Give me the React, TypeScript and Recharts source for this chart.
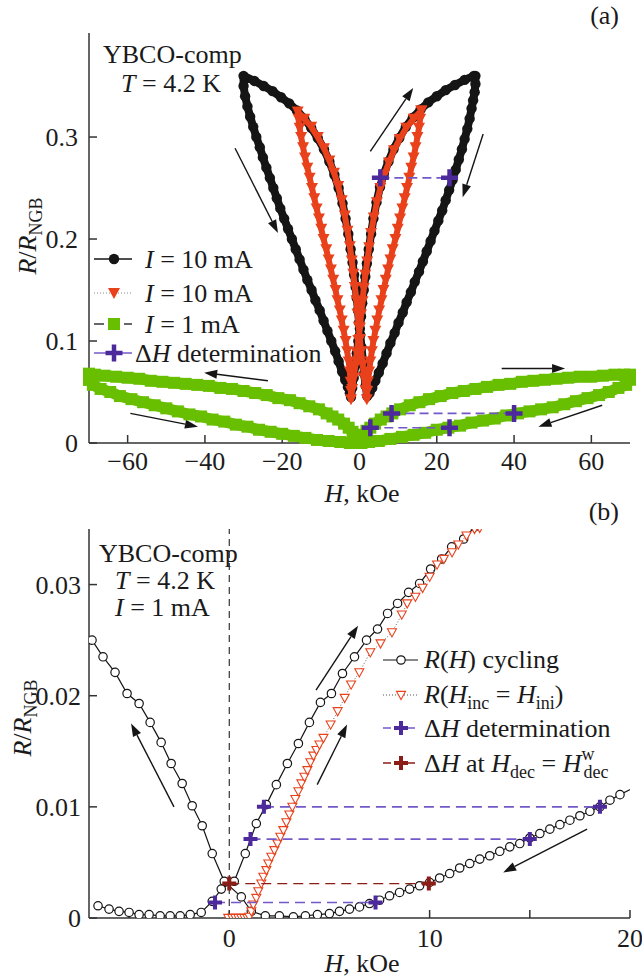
import React from 'react';
import { ScatterChart, Scatter, XAxis, YAxis, ReferenceLine } from 'recharts';

type Pt = [number, number];

// ---------- panel (a): R/R_NGB vs H, wide field loops ----------
const hTicksA = [-60, -40, -20, 0, 20, 40, 60];
const rTicksA = [0, 0.1, 0.2, 0.3];

// I = 10 mA, major loop (+-30 kOe), traced as one closed path
const black10OuterRight: Pt[] = [
  [30.0, 0.360], [30.0, 0.352], [29.8, 0.344], [29.4, 0.336], [29.0, 0.328], [28.5, 0.318],
  [27.9, 0.308], [27.2, 0.298], [26.5, 0.288], [25.7, 0.278], [24.9, 0.268], [24.1, 0.258],
  [23.2, 0.248], [22.3, 0.238], [21.4, 0.228], [20.4, 0.218], [19.4, 0.208], [18.4, 0.198],
  [17.4, 0.188], [16.4, 0.178], [15.4, 0.168], [14.3, 0.158], [13.3, 0.148], [12.2, 0.138],
  [11.2, 0.128], [10.1, 0.118], [9.1, 0.108], [8.0, 0.098], [7.0, 0.088], [6.0, 0.078],
  [5.0, 0.069], [4.1, 0.061], [3.3, 0.054], [2.6, 0.049], [2.0, 0.046],
];
const black10InnerLeft: Pt[] = [
  [1.6, 0.056], [1.2, 0.068], [0.9, 0.080], [0.5, 0.094], [0.2, 0.106], [-0.1, 0.118],
  [-0.4, 0.130], [-0.7, 0.142], [-1.0, 0.153], [-1.4, 0.165], [-1.8, 0.177], [-2.3, 0.190],
  [-2.9, 0.205], [-3.6, 0.220], [-4.4, 0.235], [-5.4, 0.250], [-6.5, 0.263], [-7.8, 0.276],
  [-9.2, 0.288], [-10.8, 0.299], [-12.5, 0.309], [-14.3, 0.318], [-16.2, 0.326], [-18.2, 0.333],
  [-20.3, 0.339], [-22.5, 0.345], [-24.8, 0.350], [-27.2, 0.355], [-30.0, 0.360],
];
const black10OuterLeft: Pt[] = [
  [-30.0, 0.350], [-29.6, 0.340], [-29.0, 0.330], [-28.3, 0.320], [-27.5, 0.310], [-26.7, 0.300],
  [-25.8, 0.290], [-25.0, 0.280], [-24.1, 0.270], [-23.2, 0.260], [-22.3, 0.250], [-21.4, 0.240],
  [-20.5, 0.230], [-19.5, 0.220], [-18.5, 0.210], [-17.5, 0.200], [-16.5, 0.190], [-15.5, 0.180],
  [-14.5, 0.170], [-13.5, 0.160], [-12.4, 0.150], [-11.4, 0.140], [-10.3, 0.130], [-9.3, 0.120],
  [-8.3, 0.110], [-7.3, 0.100], [-6.3, 0.090], [-5.4, 0.080], [-4.5, 0.070], [-3.7, 0.062],
  [-3.0, 0.055], [-2.5, 0.049], [-2.2, 0.045],
];
const black10InnerRight: Pt[] = [
  [-1.9, 0.054], [-1.5, 0.064], [-1.1, 0.076], [-0.7, 0.088], [-0.3, 0.100], [0.1, 0.112],
  [0.4, 0.124], [0.7, 0.137], [1.1, 0.150], [1.5, 0.163], [1.9, 0.176], [2.4, 0.190],
  [3.0, 0.205], [3.6, 0.220], [4.4, 0.236], [5.3, 0.251], [6.3, 0.264], [7.5, 0.276],
  [8.8, 0.288], [10.3, 0.299], [12.0, 0.310], [13.8, 0.319], [15.8, 0.327], [17.8, 0.334],
  [20.0, 0.340], [22.3, 0.346], [24.7, 0.351], [27.2, 0.356], [29.6, 0.360],
];

// I = 10 mA, minor loop (+-16 kOe)
const red10OuterRight: Pt[] = [
  [16.0, 0.326], [15.7, 0.318], [15.4, 0.309], [15.0, 0.300], [14.5, 0.290], [14.0, 0.280],
  [13.4, 0.270], [12.9, 0.260], [12.3, 0.250], [11.7, 0.240], [11.1, 0.230], [10.5, 0.220],
  [9.9, 0.210], [9.3, 0.200], [8.6, 0.190], [8.0, 0.180], [7.4, 0.170], [6.8, 0.160],
  [6.2, 0.150], [5.7, 0.140], [5.1, 0.130], [4.6, 0.120], [4.1, 0.110], [3.6, 0.100],
  [3.2, 0.090], [2.8, 0.080], [2.5, 0.070], [2.2, 0.060], [2.0, 0.051], [1.9, 0.043],
];
const red10InnerLeft: Pt[] = [
  [1.6, 0.052], [1.2, 0.064], [0.8, 0.077], [0.4, 0.090], [0.1, 0.102], [-0.2, 0.114],
  [-0.5, 0.127], [-0.8, 0.140], [-1.2, 0.153], [-1.6, 0.166], [-2.0, 0.179], [-2.5, 0.193],
  [-3.1, 0.208], [-3.8, 0.223], [-4.6, 0.238], [-5.5, 0.252], [-6.6, 0.265], [-7.8, 0.277],
  [-9.2, 0.289], [-10.8, 0.300], [-12.5, 0.310], [-14.3, 0.318], [-16.0, 0.325],
];
const red10OuterLeft: Pt[] = [
  [-15.8, 0.318], [-15.5, 0.309], [-15.1, 0.300], [-14.6, 0.290], [-14.1, 0.280], [-13.5, 0.270],
  [-12.9, 0.260], [-12.3, 0.250], [-11.7, 0.240], [-11.1, 0.230], [-10.5, 0.220], [-9.9, 0.210],
  [-9.3, 0.200], [-8.6, 0.190], [-8.0, 0.180], [-7.4, 0.170], [-6.8, 0.160], [-6.2, 0.150],
  [-5.7, 0.140], [-5.1, 0.130], [-4.6, 0.120], [-4.1, 0.110], [-3.6, 0.100], [-3.2, 0.090],
  [-2.8, 0.080], [-2.5, 0.070], [-2.3, 0.060], [-2.2, 0.051], [-2.2, 0.043],
];
const red10InnerRight: Pt[] = [
  [-1.9, 0.053], [-1.5, 0.064], [-1.1, 0.076], [-0.7, 0.089], [-0.3, 0.101], [0.1, 0.113],
  [0.4, 0.126], [0.8, 0.139], [1.1, 0.152], [1.5, 0.165], [2.0, 0.178], [2.5, 0.192],
  [3.0, 0.206], [3.7, 0.221], [4.5, 0.236], [5.4, 0.250], [6.4, 0.263], [7.6, 0.275],
  [8.9, 0.287], [10.4, 0.298], [12.1, 0.309], [14.0, 0.318], [16.0, 0.326],
];

// I = 1 mA, loop to +-70 kOe
const green1LowerLeft: Pt[] = [
  [-70, 0.062], [-69, 0.057], [-67, 0.053], [-64.5, 0.050], [-62, 0.046], [-59, 0.043],
  [-56, 0.040], [-53, 0.037], [-50, 0.034], [-47, 0.031], [-44, 0.028], [-41, 0.026],
  [-38, 0.023], [-35, 0.021], [-32, 0.018], [-29, 0.016], [-26, 0.013], [-23, 0.011],
  [-20, 0.009], [-17, 0.007], [-14, 0.005], [-11, 0.003], [-8, 0.002], [-5, 0.001],
  [-2.5, 0.000], [-0.5, 0.001],
];
const green1UpperRight: Pt[] = [
  [0.3, 0.004], [1.0, 0.008], [1.8, 0.012], [2.8, 0.015], [4.0, 0.019], [5.5, 0.023],
  [7.0, 0.026], [8.5, 0.029], [10.5, 0.033], [13, 0.037], [15.5, 0.040], [18, 0.043],
  [21, 0.046], [24, 0.049], [27, 0.051], [30, 0.053], [33, 0.055], [36, 0.057],
  [39, 0.058], [42, 0.060], [45, 0.061], [48, 0.062], [51, 0.063], [54, 0.064],
  [57, 0.065], [60, 0.065], [63, 0.066], [66, 0.067], [68.5, 0.067], [70, 0.067], [70, 0.062],
];
const green1LowerRight: Pt[] = [
  [69, 0.057], [67, 0.054], [64.5, 0.050], [62, 0.047], [59, 0.044], [56, 0.041],
  [53, 0.038], [50, 0.035], [47, 0.033], [44, 0.031], [41, 0.029], [38, 0.027],
  [35, 0.024], [32, 0.022], [29, 0.020], [26, 0.017], [23, 0.015], [20, 0.013],
  [17, 0.010], [14, 0.008], [11, 0.006], [8, 0.004], [5, 0.002], [2.5, 0.001], [0.5, 0.000],
];
const green1UpperLeft: Pt[] = [
  [-0.3, 0.004], [-1.0, 0.008], [-1.8, 0.011], [-2.8, 0.015], [-4.0, 0.019], [-5.5, 0.023],
  [-7.0, 0.026], [-8.5, 0.029], [-10.5, 0.033], [-13, 0.036], [-15.5, 0.039], [-18, 0.042],
  [-21, 0.044], [-24, 0.047], [-27, 0.049], [-30, 0.051], [-33, 0.053], [-36, 0.054],
  [-39, 0.056], [-42, 0.057], [-45, 0.058], [-48, 0.059], [-51, 0.060], [-54, 0.061],
  [-57, 0.063], [-60, 0.064], [-63, 0.065], [-66, 0.066], [-68.5, 0.067], [-70, 0.068],
  [-70, 0.062],
];

// Delta H determination pairs
const deltaA1: Pt[] = [[5.4, 0.260], [23.3, 0.260]];
const deltaA2: Pt[] = [[8.3, 0.029], [40.0, 0.029]];
const deltaA3: Pt[] = [[2.8, 0.015], [23.3, 0.015]];

const arrowsA: [Pt, Pt][] = [
  [[-32.2, 0.289], [-21.1, 0.206]],
  [[2.8, 0.286], [13.9, 0.348]],
  [[32.0, 0.303], [26.7, 0.241]],
  [[-23.7, 0.061], [-40.2, 0.069]],
  [[-59.3, 0.029], [-41.8, 0.016]],
  [[36.8, 0.073], [53.2, 0.073]],
  [[62.8, 0.037], [46.3, 0.016]],
];

// ---------- panel (b): low field zoom, I = 1 mA ----------
const hTicksB = [-5, 0, 5, 10, 15, 20];
const hLabelsB = [0, 10, 20];
const rTicksB = [0, 0.01, 0.02, 0.03];

const cyclingDec: Pt[] = [
  [20.4, 0.0119], [19.5, 0.0111], [19.0, 0.0106], [18.5, 0.0100], [18.0, 0.0096], [17.5, 0.0092],
  [17.0, 0.0088], [16.5, 0.0084], [16.0, 0.0080], [15.5, 0.0076], [15.0, 0.0072], [14.5, 0.0067],
  [14.0, 0.0064], [13.5, 0.0060], [13.0, 0.0056], [12.5, 0.0053], [12.0, 0.0049], [11.5, 0.0045],
  [11.0, 0.0040], [10.5, 0.0036], [10.0, 0.0032], [9.5, 0.0029], [9.0, 0.0026], [8.5, 0.0023],
  [8.0, 0.0020], [7.5, 0.0016], [7.0, 0.0013], [6.5, 0.0010], [6.0, 0.0008], [5.5, 0.0006],
  [5.0, 0.0004], [4.4, 0.0003], [3.8, 0.0002], [3.2, 0.0001], [2.5, 0.0002], [1.8, 0.0002],
  [1.1, 0.0006], [0.6, 0.0019], [-0.25, 0.0033], [-0.85, 0.0058], [-1.35, 0.0083], [-1.85, 0.0101],
  [-2.35, 0.0121], [-2.9, 0.0139], [-3.4, 0.0158], [-3.95, 0.0176], [-4.5, 0.0193], [-5.1, 0.0202],
  [-5.7, 0.0221], [-6.3, 0.0235], [-6.85, 0.0250],
];
const cyclingInc: Pt[] = [
  [-6.55, 0.0011], [-6.0, 0.0008], [-5.5, 0.0006], [-5.0, 0.0005], [-4.5, 0.0003], [-4.0, 0.0003],
  [-3.45, 0.0002], [-2.95, 0.0002], [-2.45, 0.0002], [-1.95, 0.0003], [-1.4, 0.0005], [-0.85, 0.0015],
  [-0.4, 0.0026], [0.25, 0.0033], [0.8, 0.0058], [1.35, 0.0085], [1.85, 0.0102], [2.35, 0.0120],
  [2.9, 0.0139], [3.45, 0.0157], [4.0, 0.0176], [4.55, 0.0194], [5.1, 0.0202], [5.65, 0.0220],
  [6.25, 0.0235], [6.85, 0.0250], [7.4, 0.0260], [7.9, 0.0274], [8.4, 0.0283], [8.95, 0.0293],
  [9.5, 0.0301], [10.05, 0.0314], [10.6, 0.0323], [11.1, 0.0334], [11.7, 0.0341], [12.25, 0.0352],
];
const initialCurve: Pt[] = [
  [-0.05, 0], [0.15, 0], [0.3, 0], [0.45, 0], [0.6, 0], [0.75, 0], [0.9, 0],
  [1.0, 0.0001], [1.1, 0.0006], [1.2, 0.0012], [1.35, 0.0018], [1.45, 0.0024], [1.6, 0.0031],
  [1.7, 0.0037], [1.85, 0.0043], [1.95, 0.0049], [2.1, 0.0055], [2.25, 0.0061], [2.4, 0.0067],
  [2.55, 0.0073], [2.7, 0.0079], [2.85, 0.0086], [3.0, 0.0093], [3.15, 0.0100], [3.3, 0.0107],
  [3.45, 0.0114], [3.6, 0.0121], [3.75, 0.0127], [3.9, 0.0133], [4.05, 0.0140], [4.2, 0.0146],
  [4.35, 0.0151], [4.5, 0.0156], [4.7, 0.0162], [5.06, 0.0174], [5.41, 0.0186], [5.76, 0.0198],
  [6.08, 0.0210], [6.49, 0.0221], [7.04, 0.0239], [7.55, 0.0247], [8.12, 0.0257], [8.61, 0.0273],
  [8.88, 0.0283], [9.29, 0.0289], [9.65, 0.0297], [10.0, 0.0307], [10.37, 0.0318], [10.71, 0.0323],
  [11.12, 0.0329], [11.43, 0.0336], [11.84, 0.0344], [12.24, 0.0350], [12.5, 0.0351],
];
const deltaB1: Pt[] = [[1.73, 0.0100], [18.5, 0.0100]];
const deltaB2: Pt[] = [[1.06, 0.0071], [15.0, 0.0071]];
const deltaB3: Pt[] = [[-0.71, 0.0014], [7.3, 0.0014]];
const deltaDec: Pt[] = [[0, 0.0031], [9.96, 0.0031]];

const arrowsB: [Pt, Pt][] = [
  [[-2.76, 0.0100], [-4.9, 0.0175]],
  [[4.33, 0.0205], [6.43, 0.0263]],
  [[4.39, 0.0120], [5.88, 0.0174]],
  [[17.86, 0.0080], [13.67, 0.0041]],
];

// ---------- styling ----------
const FONT = 'Liberation Serif';
const AXIS = '#333';
const BLACK = '#151515';
const RED = '#e8411b';
const GREEN = '#68bf00';
const PURPLE = '#4d2a9c';
const PURPLE_DASH = '#7358c8';
const DARKRED = '#8c1c16';

const rows = (pts: Pt[]) => pts.map(([h, r]) => ({ h, r }));
const fmt = (v: number) => (v < 0 ? '\u2212' + Math.abs(v) : String(v));
const tickStyle = { fill: '#1c1c1c', fontSize: 26, fontFamily: FONT, style: { fontFamily: FONT } };

const filledDot = (p: any) => <circle cx={p.cx} cy={p.cy} r={5.2} fill={BLACK} />;
const filledTri = (p: any) => (
  <polygon points={`${p.cx - 6},${p.cy - 5} ${p.cx + 6},${p.cy - 5} ${p.cx},${p.cy + 6}`} fill={RED} />
);
const greenSquare = (p: any) => <rect x={p.cx - 6} y={p.cy - 6} width={12} height={12} fill={GREEN} />;
const plusMark = (color: string, s: number, w: number) => (p: any) => (
  <path d={`M${p.cx - s},${p.cy}H${p.cx + s}M${p.cx},${p.cy - s}V${p.cy + s}`} stroke={color} strokeWidth={w} />
);
const openDot = (p: any) => <circle cx={p.cx} cy={p.cy} r={4.2} fill="#fff" stroke={BLACK} strokeWidth={1.2} />;
const openTri = (p: any) => (
  <polygon
    points={`${p.cx - 4.5},${p.cy - 3.6} ${p.cx + 4.5},${p.cy - 3.6} ${p.cx},${p.cy + 4.6}`}
    fill="#fff" stroke={RED} strokeWidth={1.1}
  />
);

function arrowShape(p: any) {
  const { x1, y1, x2, y2 } = p;
  const len = Math.hypot(x2 - x1, y2 - y1) || 1;
  const ux = (x2 - x1) / len;
  const uy = (y2 - y1) / len;
  const bx = x2 - ux * 13;
  const by = y2 - uy * 13;
  return (
    <g>
      <line x1={x1} y1={y1} x2={bx} y2={by} stroke={BLACK} strokeWidth={1.4} />
      <polygon points={`${x2},${y2} ${bx - uy * 4.5},${by + ux * 4.5} ${bx + uy * 4.5},${by - ux * 4.5}`} fill={BLACK} />
    </g>
  );
}

const axisLine = { stroke: AXIS, strokeWidth: 1.5 };

function PanelA() {
  return (
    <ScatterChart width={642} height={490} margin={{ top: 33, right: 12, bottom: 7, left: 29 }}>
      <XAxis
        dataKey="h" type="number" domain={[-70, 70]} ticks={hTicksA} interval={0}
        tickFormatter={fmt} tick={tickStyle} tickSize={-8} tickMargin={17}
        axisLine={axisLine} tickLine={axisLine} height={40}
      />
      <XAxis xAxisId="top" orientation="top" type="number" domain={[-70, 70]} height={0}
        tick={false} tickLine={false} axisLine={axisLine} />
      <YAxis
        dataKey="r" type="number" domain={[0, 0.402]} ticks={rTicksA} interval={0}
        tick={tickStyle} tickSize={-8} tickMargin={19} axisLine={axisLine} tickLine={axisLine} width={60}
      />
      <YAxis yAxisId="right" orientation="right" type="number" domain={[0, 0.402]} width={0}
        tick={false} tickLine={false} axisLine={axisLine} />
      <Scatter
        data={rows([...black10OuterRight, ...black10InnerLeft, ...black10OuterLeft, ...black10InnerRight])}
        line={{ stroke: BLACK, strokeWidth: 8, strokeLinejoin: 'round' }} lineType="joint" shape={filledDot}
        isAnimationActive={false}
      />
      <Scatter
        data={rows([...red10OuterRight, ...red10InnerLeft, ...red10OuterLeft, ...red10InnerRight])}
        line={{ stroke: RED, strokeWidth: 6, strokeLinejoin: 'round' }} lineType="joint"
        shape={filledTri} isAnimationActive={false}
      />
      <Scatter
        data={rows([...green1LowerLeft, ...green1UpperRight, ...green1LowerRight, ...green1UpperLeft])}
        line={{ stroke: GREEN, strokeWidth: 11, strokeLinejoin: 'round' }} lineType="joint"
        shape={greenSquare} isAnimationActive={false}
      />
      {[deltaA1, deltaA2, deltaA3].map((d, i) => (
        <Scatter key={i} data={rows(d)} line={{ stroke: PURPLE_DASH, strokeWidth: 1.6, strokeDasharray: '9 5' }}
          lineType="joint" shape={plusMark(PURPLE, 8.5, 4.5)} isAnimationActive={false} />
      ))}
      {arrowsA.map(([a, b], i) => (
        <ReferenceLine key={i} segment={[{ x: a[0], y: a[1] }, { x: b[0], y: b[1] }]} shape={arrowShape} ifOverflow="visible" />
      ))}
    </ScatterChart>
  );
}

function PanelB() {
  return (
    <ScatterChart width={642} height={487} margin={{ top: 39, right: 12, bottom: 19, left: 29 }}>
      <XAxis
        dataKey="h" type="number" domain={[-7, 20]} ticks={hTicksB} interval={0} allowDataOverflow
        tickFormatter={(v: number) => (hLabelsB.includes(v) ? fmt(v) : '')} tick={tickStyle}
        tickSize={-8} tickMargin={19} axisLine={axisLine} tickLine={axisLine} height={40}
      />
      <XAxis xAxisId="top" orientation="top" type="number" domain={[-7, 20]} ticks={hTicksB} interval={0}
        height={0} tick={false} tickSize={-8} tickLine={axisLine} axisLine={axisLine} allowDataOverflow />
      <YAxis
        dataKey="r" type="number" domain={[0, 0.035]} ticks={rTicksB} interval={0} allowDataOverflow
        tick={tickStyle} tickSize={-8} tickMargin={16} axisLine={axisLine} tickLine={axisLine} width={60}
      />
      <YAxis yAxisId="right" orientation="right" type="number" domain={[0, 0.035]} width={0}
        tick={false} tickLine={false} axisLine={axisLine} />
      <ReferenceLine x={0} stroke="#222" strokeWidth={1.1} strokeDasharray="7 5" />
      <Scatter data={rows(cyclingDec)} line={{ stroke: BLACK, strokeWidth: 1.2 }} lineType="joint"
        shape={openDot} isAnimationActive={false} />
      <Scatter data={rows(cyclingInc)} line={{ stroke: BLACK, strokeWidth: 1.2 }} lineType="joint"
        shape={openDot} isAnimationActive={false} />
      <Scatter data={rows(initialCurve)} line={{ stroke: '#666', strokeWidth: 1, strokeDasharray: '1 2' }}
        lineType="joint" shape={openTri} isAnimationActive={false} />
      {[deltaB1, deltaB2, deltaB3].map((d, i) => (
        <Scatter key={i} data={rows(d)} line={{ stroke: PURPLE_DASH, strokeWidth: 1.6, strokeDasharray: '10 6' }}
          lineType="joint" shape={plusMark(PURPLE, 7, 4)} isAnimationActive={false} />
      ))}
      <Scatter data={rows(deltaDec)} line={{ stroke: DARKRED, strokeWidth: 1.3, strokeDasharray: '10 6' }}
        lineType="joint" shape={plusMark(DARKRED, 7, 4)} isAnimationActive={false} />
      {arrowsB.map(([a, b], i) => (
        <ReferenceLine key={i} segment={[{ x: a[0], y: a[1] }, { x: b[0], y: b[1] }]} shape={arrowShape} ifOverflow="visible" />
      ))}
    </ScatterChart>
  );
}

const It = ({ children }: { children: React.ReactNode }) => <tspan fontStyle="italic">{children}</tspan>;

function Overlay() {
  const t = { fontSize: 26, fill: '#1a1a1a', fontFamily: FONT };
  const sub = 18;
  return (
    <svg width={642} height={977} fontFamily={FONT} style={{ position: 'absolute', left: 0, top: 0, pointerEvents: 'none' }}>
      {/* panel (a) */}
      <text {...t} x={619} y={24} textAnchor="end">(a)</text>
      <text {...t} x={103} y={63}>YBCO-comp</text>
      <text {...t} x={121} y={92}><It>T</It>{' = 4.2 K'}</text>
      <text {...t} transform="translate(36,236) rotate(-90)" textAnchor="middle">
        <It>R</It>/<It>R</It><tspan fontSize={sub} dy={6}>NGB</tspan>
      </text>
      <text {...t} x={362} y={502} textAnchor="middle"><It>H</It>, kOe</text>

      <line x1={94} x2={132} y1={259} y2={259} stroke={BLACK} strokeWidth={1.3} />
      <circle cx={114} cy={259} r={5.2} fill={BLACK} />
      <text {...t} x={145} y={268}><It>I</It>{' = 10 mA'}</text>

      <line x1={94} x2={132} y1={293} y2={293} stroke="#888" strokeWidth={1.2} strokeDasharray="1 2" />
      <polygon points="108,288 120,288 114,299" fill={RED} />
      <text {...t} x={145} y={302}><It>I</It>{' = 10 mA'}</text>

      <line x1={94} x2={104} y1={324} y2={324} stroke={BLACK} strokeWidth={1.3} />
      <line x1={124} x2={132} y1={324} y2={324} stroke={BLACK} strokeWidth={1.3} />
      <rect x={108} y={318} width={12} height={12} fill={GREEN} />
      <text {...t} x={145} y={333}><It>I</It>{' = 1 mA'}</text>

      <line x1={94} x2={132} y1={353} y2={353} stroke={PURPLE_DASH} strokeWidth={1.6} />
      <path d="M105.5,353H122.5M114,344.5V361.5" stroke={PURPLE} strokeWidth={4.5} />
      <text {...t} x={135} y={362}>{'\u0394'}<It>H</It>{' determination'}</text>

      {/* panel (b) */}
      <text {...t} x={619} y={520} textAnchor="end">(b)</text>
      <text {...t} x={99} y={562}>YBCO-comp</text>
      <text {...t} x={115} y={589}><It>T</It>{' = 4.2 K'}</text>
      <text {...t} x={115} y={616}><It>I</It>{' = 1 mA'}</text>
      <text {...t} transform="translate(31,718) rotate(-90)" textAnchor="middle">
        <It>R</It>/<It>R</It><tspan fontSize={sub} dy={6}>NGB</tspan>
      </text>
      <text {...t} x={362} y={972} textAnchor="middle"><It>H</It>, kOe</text>

      <line x1={383} x2={418} y1={660} y2={660} stroke={BLACK} strokeWidth={1.2} />
      <circle cx={401} cy={660} r={4.2} fill="#fff" stroke={BLACK} strokeWidth={1.2} />
      <text {...t} x={424} y={668}><It>R</It>(<It>H</It>{') cycling'}</text>

      <line x1={383} x2={418} y1={695} y2={695} stroke="#555" strokeWidth={1.1} strokeDasharray="1 2" />
      <polygon points="396.5,691.4 405.5,691.4 401,699.6" fill="#fff" stroke={RED} strokeWidth={1.1} />
      <text {...t} x={424} y={703}>
        <It>R</It>(<It>H</It><tspan fontSize={sub} dy={6}>inc</tspan><tspan dy={-6}>{' = '}</tspan><It>H</It>
        <tspan fontSize={sub} dy={6}>ini</tspan><tspan dy={-6}>)</tspan>
      </text>

      <line x1={383} x2={418} y1={728} y2={728} stroke={PURPLE_DASH} strokeWidth={1.6} strokeDasharray="8 4" />
      <path d="M394,728H408M401,721V735" stroke={PURPLE} strokeWidth={4} />
      <text {...t} x={424} y={737}>{'\u0394'}<It>H</It>{' determination'}</text>

      <line x1={383} x2={418} y1={763} y2={763} stroke={DARKRED} strokeWidth={1.3} strokeDasharray="8 4" />
      <path d="M394,763H408M401,756V770" stroke={DARKRED} strokeWidth={4} />
      <text {...t} x={424} y={772}>
        {'\u0394'}<It>H</It>{' at '}<It>H</It><tspan fontSize={sub} dy={6}>dec</tspan><tspan dy={-6}>{' = '}</tspan>
        <It>H</It><tspan fontSize={sub} dy={-12}>w</tspan><tspan fontSize={sub} dx={-11} dy={18}>dec</tspan>
      </text>
    </svg>
  );
}

export default function App() {
  return (
    <div style={{ position: 'absolute', left: 0, top: 0, width: 642, height: 977, background: '#fff', fontFamily: FONT }}>
      <div style={{ position: 'absolute', left: 0, top: 0, fontFamily: FONT }}>
        <PanelA />
      </div>
      <div style={{ position: 'absolute', left: 0, top: 490, fontFamily: FONT }}>
        <PanelB />
      </div>
      <Overlay />
    </div>
  );
}
